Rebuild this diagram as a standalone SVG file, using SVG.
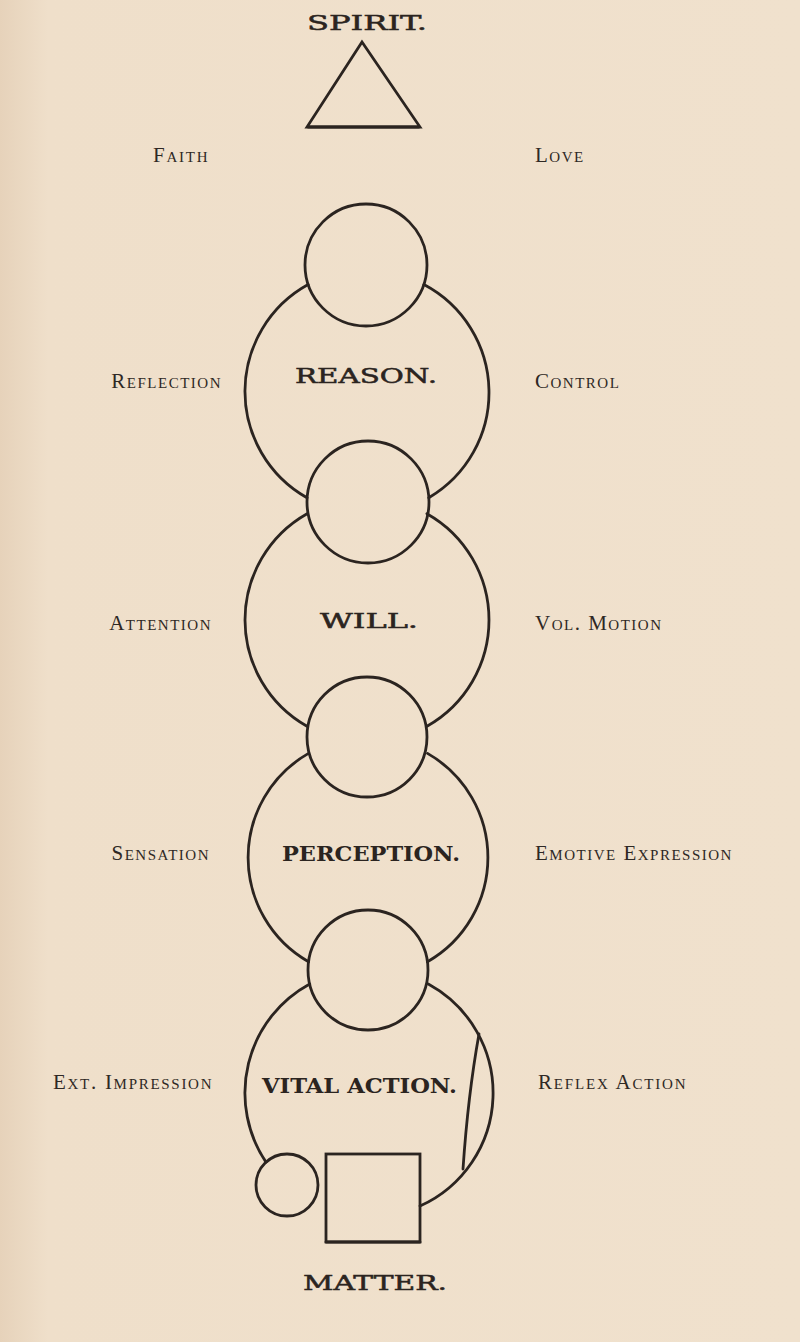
<svg xmlns="http://www.w3.org/2000/svg" width="800" height="1342" viewBox="0 0 800 1342">
<defs>
<linearGradient id="paper" x1="0" y1="0" x2="1" y2="0">
<stop offset="0" stop-color="#e6d2ba"/>
<stop offset="0.06" stop-color="#efdfca"/>
<stop offset="1" stop-color="#f0e1cd"/>
</linearGradient>
<style>
.ln{fill:none;stroke:#2b2420;stroke-width:2.8;stroke-linecap:round}
.lbl{font-family:"Liberation Serif","Times New Roman",serif;font-size:21px;font-variant:small-caps;letter-spacing:1.5px;fill:#2e2824}
.end{text-anchor:end}
.cap{font-family:"DejaVu Serif","Liberation Serif",serif;font-size:20px;fill:#2b2420;stroke:#2b2420;stroke-width:0.5}
.bold{font-family:"DejaVu Serif","Liberation Serif",serif;font-size:20px;font-weight:bold;fill:#2b2420}
</style>
</defs>
<rect x="0" y="0" width="800" height="1342" fill="url(#paper)"/>

<g id="spirit">
<text class="cap" x="307" y="30" textLength="120" lengthAdjust="spacingAndGlyphs">SPIRIT.</text>
<polygon class="ln" points="362,42 307,127 420,127" stroke-linejoin="miter"/>
<line class="ln" x1="308" y1="127" x2="419" y2="127" stroke-width="3.6"/>
</g>

<g id="labels-left">
<text class="lbl" x="153" y="162" textLength="56">Faith</text>
<text class="lbl end" x="222" y="388">Reflection</text>
<text class="lbl end" x="212" y="630">Attention</text>
<text class="lbl end" x="210" y="860">Sensation</text>
<text class="lbl" x="53" y="1089" textLength="160">Ext. Impression</text>
</g>

<g id="labels-right">
<text class="lbl" x="535" y="162">Love</text>
<text class="lbl" x="535" y="388">Control</text>
<text class="lbl" x="535" y="630">Vol. Motion</text>
<text class="lbl" x="535" y="860">Emotive Expression</text>
<text class="lbl" x="538" y="1089" textLength="149">Reflex Action</text>
</g>

<g id="small-circles">
<circle id="s1" class="ln" cx="366" cy="265" r="61"/>
<circle id="s2" class="ln" cx="368" cy="502" r="61"/>
<circle id="s3" class="ln" cx="367" cy="737" r="60"/>
<circle id="s4" class="ln" cx="368" cy="970" r="60"/>
</g>

<g id="reason">
<path class="ln" d="M308.1 284.6 A122 122 0 0 0 307 497.7 M423.9 284.6 A122 122 0 0 1 428.8 497.7"/>
<text class="cap" x="295" y="383" textLength="142" lengthAdjust="spacingAndGlyphs">REASON.</text>
</g>

<g id="will">
<path class="ln" d="M307.1 513.7 A122 122 0 0 0 307 726.2 M426.9 513.7 A122 122 0 0 1 427 726.2"/>
<text class="cap" x="320" y="628" textLength="98" lengthAdjust="spacingAndGlyphs">WILL.</text>
</g>

<g id="perception">
<path class="ln" d="M308.5 753.4 A120 120 0 0 0 308.5 961.7 M427.5 753.4 A120 120 0 0 1 427.5 961.7"/>
<text class="bold" x="282" y="861" textLength="178" lengthAdjust="spacingAndGlyphs">PERCEPTION.</text>
</g>

<g id="vital-action">
<path class="ln" d="M309.7 984 A124 124 0 0 0 266 1162.1 M428.3 984 A124 124 0 0 1 420 1206"/>
<path class="ln" d="M479 1034 Q468 1095 463 1169" stroke-width="3.2"/>
<text class="bold" x="262" y="1093" textLength="195" lengthAdjust="spacingAndGlyphs">VITAL ACTION.</text>
</g>

<g id="matter">
<circle class="ln" cx="287" cy="1185" r="31"/>
<rect class="ln" x="326" y="1154" width="94" height="88"/>
<line class="ln" x1="326" y1="1242" x2="420" y2="1242" stroke-width="4.2"/>
<text class="cap" x="303" y="1290" textLength="144" lengthAdjust="spacingAndGlyphs">MATTER.</text>
</g>
</svg>
